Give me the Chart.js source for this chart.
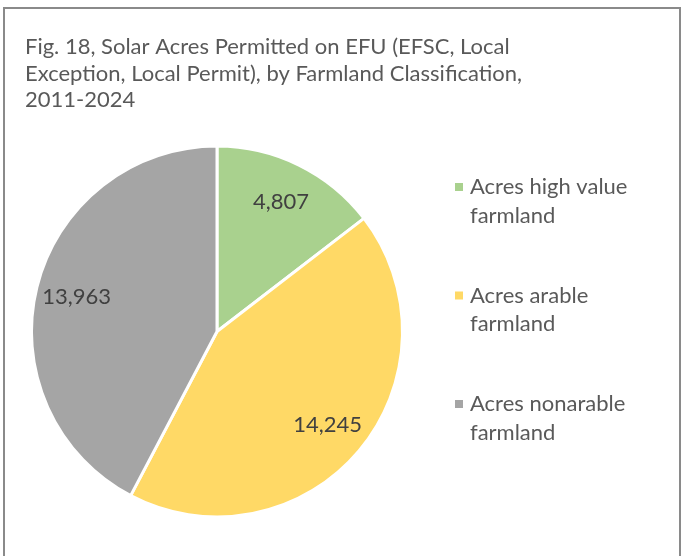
<!DOCTYPE html>
<html>
<head>
<meta charset="utf-8">
<script src="https://cdn.jsdelivr.net/npm/chart.js@4.4.1/dist/chart.umd.min.js"></script>
<style>
html,body{margin:0;padding:0;background:#fff;}
#wrap{position:relative;width:682px;height:556px;}
</style>
</head>
<body>
<div id="wrap"><canvas id="c" width="682" height="556"></canvas></div>
<script>
const titleLines = ["Fig. 18, Solar Acres Permitted on EFU (EFSC, Local", "Exception, Local Permit), by Farmland Classification,", "2011-2024"];
const categories = ["Acres high value farmland", "Acres arable farmland", "Acres nonarable farmland"];
const legendLines = [["Acres high value", "farmland"], ["Acres arable", "farmland"], ["Acres nonarable", "farmland"]];
const acres = [4807, 14245, 13963];
const colors = ["#A9D18E", "#FFD966", "#A5A5A5"];

const FONT = "Lato, 'Open Sans', sans-serif";

const decor = {
  id: 'decor',
  beforeDraw(chart) {
    const ctx = chart.ctx;
    ctx.save();
    ctx.fillStyle = '#fff';
    ctx.fillRect(0, 0, chart.width, chart.height);
    ctx.strokeStyle = '#8a8a8a';
    ctx.lineWidth = 2;
    ctx.strokeRect(4, 8, 676, 560);
    ctx.restore();
  },
  afterDraw(chart) {
    const ctx = chart.ctx;
    ctx.save();
    // title
    ctx.fillStyle = '#595959';
    ctx.font = '22px ' + FONT;
    ctx.textBaseline = 'middle';
    ctx.textAlign = 'left';
    titleLines.forEach((t, i) => ctx.fillText(t, 25, 47 + i * 26.5));
    // legend
    const meta = chart.getDatasetMeta(0);
    legendLines.forEach((lines, i) => {
      const y0 = 187 + i * 108.5;
      ctx.fillStyle = chart.data.datasets[0].backgroundColor[i];
      ctx.fillRect(455, y0 - 4, 8, 8);
      ctx.fillStyle = '#595959';
      lines.forEach((t, j) => ctx.fillText(t, 470, y0 + j * 28.5));
    });
    // data labels
    ctx.fillStyle = '#404040';
    ctx.textAlign = 'center';
    meta.data.forEach((arc, i) => {
      const p = arc.getProps(['x', 'y', 'startAngle', 'endAngle', 'outerRadius'], true);
      const mid = (p.startAngle + p.endAngle) / 2;
      const r = p.outerRadius * 0.78;
      const v = chart.data.datasets[0].data[i];
      ctx.fillText(v.toLocaleString('en-US'), p.x + Math.cos(mid) * r, p.y + Math.sin(mid) * r);
    });
    ctx.restore();
  }
};

new Chart(document.getElementById('c'), {
  type: 'pie',
  data: {
    labels: categories,
    datasets: [{
      data: acres,
      backgroundColor: colors,
      borderColor: '#ffffff',
      borderWidth: 3,
      hoverOffset: 0
    }]
  },
  options: {
    responsive: false,
    animation: false,
    events: [],
    layout: { padding: { left: 30, right: 278, top: 144, bottom: 37 } },
    plugins: {
      legend: { display: false },
      title: { display: false },
      tooltip: { enabled: false }
    }
  },
  plugins: [decor]
});
</script>
</body>
</html>
